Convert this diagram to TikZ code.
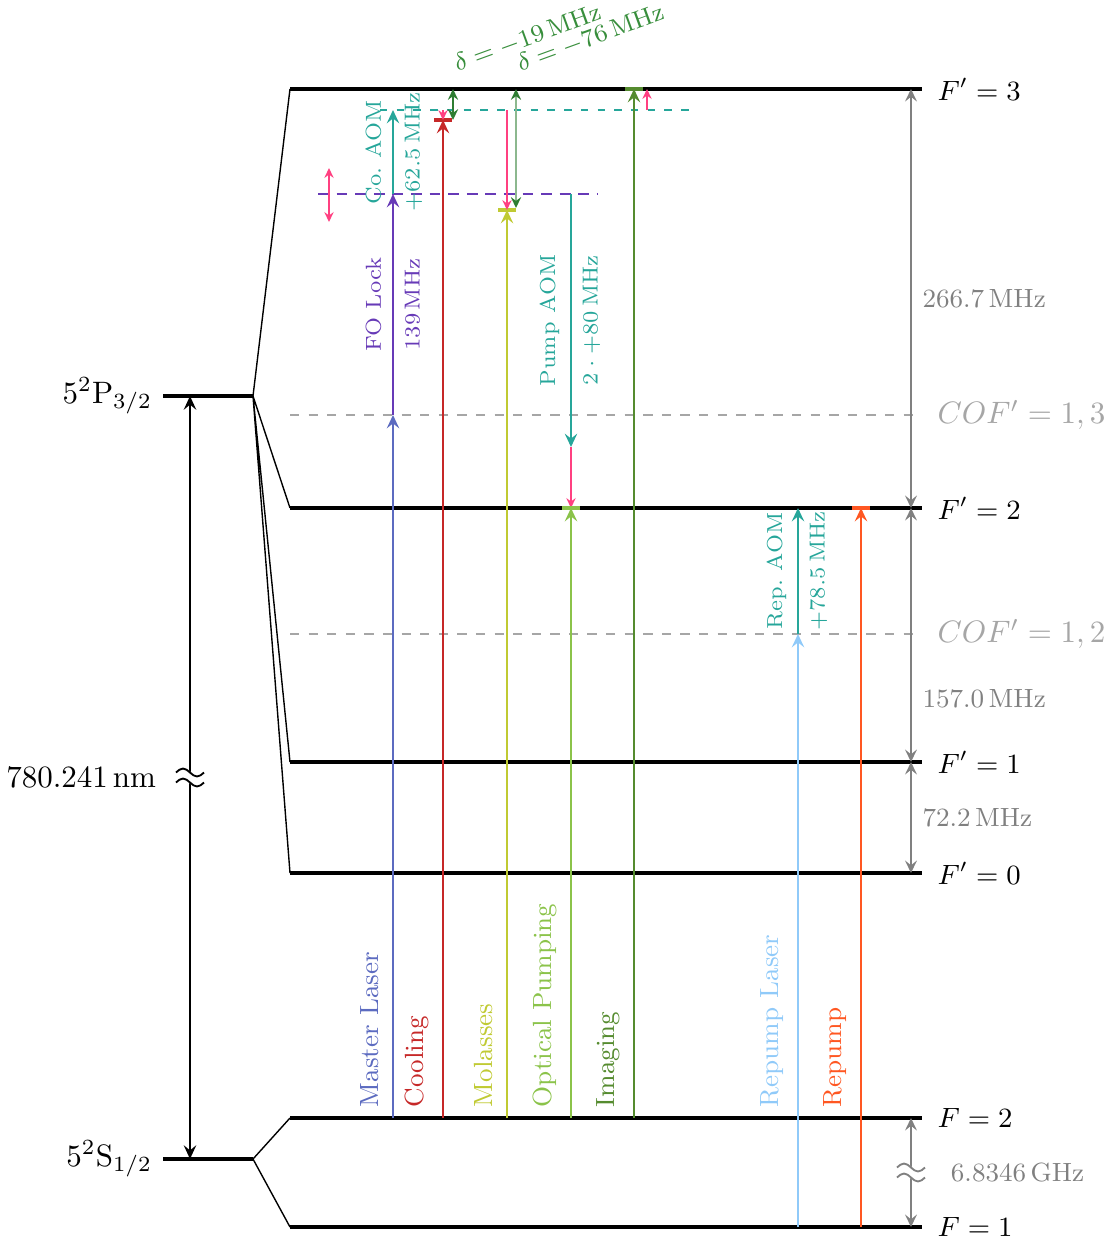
\documentclass[tikz,border=0pt]{standalone}
\usepackage{amsmath,amssymb}
\usepackage{xcolor}
\usetikzlibrary{arrows.meta,calc}

\definecolor{masterc}{HTML}{5C6BC0}
\definecolor{coolc}{HTML}{C62828}
\definecolor{molc}{HTML}{C0CA33}
\definecolor{opc}{HTML}{8BC34A}
\definecolor{imgc}{HTML}{558B2F}
\definecolor{replc}{HTML}{90CAF9}
\definecolor{repc}{HTML}{FF5722}
\definecolor{aomc}{HTML}{26A69A}
\definecolor{foc}{HTML}{673AB7}
\definecolor{pinkc}{HTML}{FF4081}
\definecolor{detc}{HTML}{2E7D32}
\definecolor{dtxt}{HTML}{388E3C}

\begin{document}
\begin{tikzpicture}[
  x=0.3227pt,y=-0.3227pt,
  lvl/.style={line width=1.3pt},
  fan/.style={line width=0.45pt},
  beam/.style={line width=0.9pt,-{Stealth[length=4.3pt,width=4pt,inset=1.6pt]}},
  nbar/.style={line width=1pt},
  pk/.style={pinkc,line width=0.5pt,-{Stealth[length=3.2pt,width=3pt,inset=1.1pt]}},
  pkd/.style={pk,{Stealth[length=3.2pt,width=3pt,inset=1.1pt]}-{Stealth[length=3.2pt,width=3pt,inset=1.1pt]}},
  det/.style={line width=0.6pt,{Stealth[length=3.5pt,width=3.3pt,inset=1.2pt,color=detc]}-{Stealth[length=3.5pt,width=3.3pt,inset=1.2pt,color=detc]}},
  hfs/.style={gray,line width=0.8pt,{Stealth[length=4pt,width=3.8pt,inset=1.5pt]}-{Stealth[length=4pt,width=3.8pt,inset=1.5pt]}},
  bigarr/.style={line width=0.8pt,{Stealth[length=4.4pt,width=4pt,inset=1.6pt]}-{Stealth[length=4.4pt,width=4pt,inset=1.6pt]}},
  cof/.style={dashed,black!35,line width=0.8pt},
  fodash/.style={foc,line width=0.8pt,dash pattern=on 3.5pt off 2.5pt},
  codash/.style={aomc,line width=0.4pt,dash pattern=on 2.4pt off 3pt},
  flbl/.style={right,xshift=1.5pt},
  flev/.style={flbl,font=\fontsize{9.2}{11}\selectfont},
  glbl/.style={right,text=gray,font=\fontsize{8.5}{10}\selectfont},
  dlbl/.style={anchor=base west,inner sep=0pt,rotate=20,text=dtxt,font=\fontsize{8.5}{10}\selectfont},
  blbl/.style={rotate=90,anchor=south west,yshift=1pt,font=\fontsize{8.5}{10}\selectfont},
  aom/.style={rotate=90,font=\fontsize{7}{8.4}\selectfont},
  brk/.pic={
    \draw[white,line width=3pt] (-14,0) sin (-7,-4) cos (0,0) sin (7,4) cos (14,0);
    \draw[line width=0.6pt] (-14,-5) sin (-7,-9) cos (0,-5) sin (7,-1) cos (14,-5)
                            (-14,5) sin (-7,1) cos (0,5) sin (7,9) cos (14,5);
  },
]
\useasboundingbox (0,0) rectangle (1113,1242);

% fine structure levels
\coordinate (P) at (163,396);
\coordinate (Pr) at (253,396);
\coordinate (S) at (163,1159);
\coordinate (Sr) at (253,1159);
\draw[lvl] (P) -- (Pr);
\draw[lvl] (S) -- (Sr);
\node[left] (lP) at (P) {$5^2\mathrm{P}_{3/2}$};
\node[left] (lS) at (S) {$5^2\mathrm{S}_{1/2}$};

% hyperfine levels
\coordinate (F3) at (290,89);   \coordinate (F3r) at (922,89);
\coordinate (F2) at (290,508);  \coordinate (F2r) at (922,508);
\coordinate (F1) at (290,762);  \coordinate (F1r) at (922,762);
\coordinate (F0) at (290,873);  \coordinate (F0r) at (922,873);
\coordinate (G2) at (290,1118); \coordinate (G2r) at (922,1118);
\coordinate (G1) at (290,1227); \coordinate (G1r) at (922,1227);
\draw[lvl] (F3) -- (F3r);
\draw[lvl] (F2) -- (F2r);
\draw[lvl] (F1) -- (F1r);
\draw[lvl] (F0) -- (F0r);
\draw[lvl] (G2) -- (G2r);
\draw[lvl] (G1) -- (G1r);
\draw[fan] (F3) -- (Pr) -- (F2) (Pr) -- (F1) (Pr) -- (F0);
\draw[fan] (G2) -- (Sr) -- (G1);
\node[flev] (lF3) at (F3r) {$F'=3$};
\node[flev] (lF2) at (F2r) {$F'=2$};
\node[flev] (lF1) at (F1r) {$F'=1$};
\node[flev] (lF0) at (F0r) {$F'=0$};
\node[flev] (lG2) at (G2r) {$F=2$};
\node[flev] (lG1) at (G1r) {$F=1$};

% crossover lines
\coordinate (C13) at (290,415); \coordinate (C13r) at (922,415);
\coordinate (C12) at (290,634); \coordinate (C12r) at (922,634);
\draw[cof] (C13) -- (C13r);
\draw[cof] (C12) -- (C12r);
\node[flbl,text=black!35] (lC13) at (C13r) {$COF'=1,3$};
\node[flbl,text=black!35] (lC12) at (C12r) {$COF'=1,2$};

% optical transition
\coordinate (v) at (190,0);
\draw[bigarr] (v |- P) -- coordinate (vm) (v |- S);
\pic at (vm) {brk};
\node[left] (lwl) at ($(vm)+(-23,0)$) {$780.241\,\mathrm{nm}$};

% hyperfine splittings
\coordinate (hf) at (911,0);
\draw[hfs] (hf |- F3) -- node[glbl] (s32) {266.7\,MHz} (hf |- F2);
\draw[hfs] (hf |- F2) -- node[glbl,pos=0.75] (s21) {157.0\,MHz} (hf |- F1);
\draw[hfs] (hf |- F1) -- node[glbl] (s10) {72.2\,MHz} (hf |- F0);
\draw[hfs] (hf |- G2) -- coordinate (gm) (hf |- G1);
\pic[gray] at (gm) {brk};
\node[glbl] (sg) at ($(gm)+(29,0)$) {6.8346\,GHz};

% lock and AOM reference levels
\coordinate (FOl) at (318,194); \coordinate (FOr) at (597,194);
\coordinate (CAl) at (380,110); \coordinate (CAr) at (693,110);
\draw[fodash] (FOl) -- (FOr);
\draw[codash] (CAl) -- (CAr);
\coordinate (lk) at (329,194);
\draw[pkd] ($(lk)+(0,-26)$) -- ($(lk)+(0,28)$);

% master laser, FO lock, cooling AOM
\coordinate (ml) at (393,0);
\draw[beam,masterc] (ml |- G2) -- (ml |- C13);
\draw[beam,foc] (ml |- C13) -- node[aom,above,text=foc] (fo1) {FO Lock}
                               node[aom,below,text=foc] (fo2) {139\,MHz} (ml |- FOl);
\draw[beam,aomc] (ml |- FOl) -- node[aom,above,text=aomc] (ca1) {Co.\ AOM}
                                node[aom,below,text=aomc] (ca2) {$+62.5\,\mathrm{MHz}$} (ml |- CAl);

% cooling
\coordinate (co) at (443,0);
\coordinate (coT) at (443,120);
\draw[beam,coolc] (co |- G2) -- (coT);
\draw[nbar,coolc] ($(coT)+(-9,0)$) -- ($(coT)+(9,0)$);
\draw[pk] (co |- CAl) -- (coT);
\coordinate (d1) at (453,120);
\draw[det,detc] (d1 |- F3) -- (d1);
\node[dlbl] (ld1) at ($(d1 |- F3)+(4,-17)$) {$\delta=-19\,\mathrm{MHz}$};

% molasses
\coordinate (mo) at (507,0);
\coordinate (moT) at (507,210);
\draw[beam,molc] (mo |- G2) -- (moT);
\draw[nbar,molc] ($(moT)+(-9,0)$) -- ($(moT)+(9,0)$);
\draw[pk] (mo |- CAl) -- (moT);
\coordinate (d2) at (516,208);
\draw[det,detc!55] (d2 |- F3) -- (d2);
\node[dlbl] (ld2) at ($(d2 |- F3)+(4,-17)$) {$\delta=-76\,\mathrm{MHz}$};

% optical pumping with pump AOM
\coordinate (op) at (571,0);
\coordinate (puT) at (571,447);
\draw[beam,aomc] (op |- FOl) -- node[aom,above,text=aomc] (pa1) {Pump AOM}
                                node[aom,below,text=aomc] (pa2) {$2\cdot +80\,\mathrm{MHz}$} (puT);
\draw[pk] (puT) -- (op |- F2);
\draw[beam,opc] (op |- G2) -- (op |- F2);
\draw[nbar,opc] ($(op |- F2)+(-9,0)$) -- ($(op |- F2)+(9,0)$);

% imaging
\coordinate (im) at (634,0);
\draw[beam,imgc] (im |- G2) -- (im |- F3);
\draw[nbar,imgc] ($(im |- F3)+(-9,0)$) -- ($(im |- F3)+(9,0)$);
\coordinate (imp) at (647,110);
\draw[pk] (imp) -- (imp |- F3);

% repump laser with repump AOM
\coordinate (rl) at (798,0);
\draw[beam,replc] (rl |- G1) -- (rl |- C12);
\draw[beam,aomc] (rl |- C12) -- node[aom,above,text=aomc] (ra1) {Rep.\ AOM}
                                node[aom,below,text=aomc] (ra2) {$+78.5\,\mathrm{MHz}$} (rl |- F2);
\coordinate (rp) at (861,0);
\draw[beam,repc] (rp |- G1) -- (rp |- F2);
\draw[nbar,repc] ($(rp |- F2)+(-9,0)$) -- ($(rp |- F2)+(9,0)$);

% beam names
\node[blbl,text=masterc] (lml) at (ml |- G2) {Master Laser};
\node[blbl,text=coolc] (lco) at (co |- G2) {Cooling};
\node[blbl,text=molc] (lmo) at (mo |- G2) {Molasses};
\node[blbl,text=opc] (lop) at (op |- G2) {Optical Pumping};
\node[blbl,text=imgc] (lim) at (im |- G2) {Imaging};
\node[blbl,text=replc] (lrl) at (rl |- G2) {Repump Laser};
\node[blbl,text=repc] (lrp) at (rp |- G2) {Repump};
\end{tikzpicture}
\end{document}
